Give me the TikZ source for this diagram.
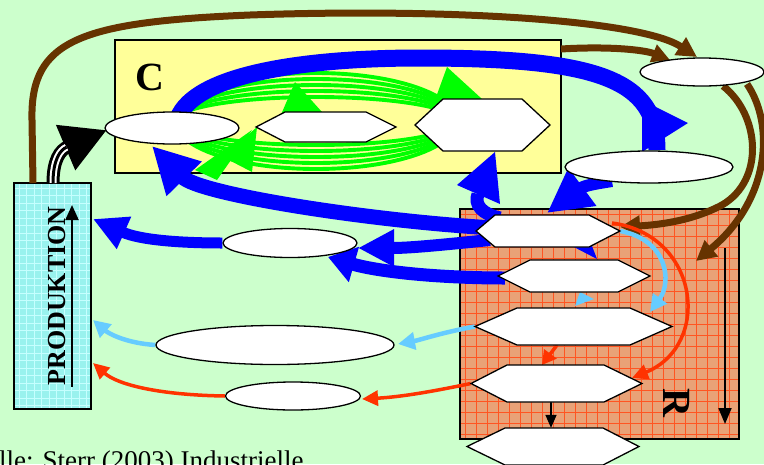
\documentclass[tikz,border=0pt]{standalone}
\usepackage{fontspec}
\setmainfont{Liberation Serif}
\usetikzlibrary{arrows.meta,shapes.geometric}
\pgfdeclarelayer{back}
\pgfdeclarelayer{mid}
\pgfsetlayers{back,mid,main}
\definecolor{bgc}{HTML}{CCFFCC}
\definecolor{cyel}{HTML}{FFFF99}
\definecolor{myblue}{HTML}{0000FF}
\definecolor{mygreen}{HTML}{00FF00}
\definecolor{brn}{HTML}{663300}
\definecolor{lblue}{HTML}{66CCFF}
\definecolor{myred}{HTML}{FF3300}
\definecolor{rfill}{HTML}{E9A277}
\definecolor{rgrid}{HTML}{FF5522}
\definecolor{pfill}{HTML}{99F2EE}
\definecolor{pgrid}{HTML}{C6FFFF}
\tikzset{
  ell/.style={ellipse, draw=black, line width=1.3pt, fill=white, inner sep=0pt},
  hexst/.style={draw=black, line width=1.3pt, fill=white, line join=miter},
  barr/.style n args={3}{draw=myblue, line width=#1pt, -{Triangle[length=#2pt,width=#3pt]}},
  larr/.style={draw=lblue, line width=4.5pt, -{Triangle[length=17pt,width=17pt]}},
  rarr/.style={draw=myred, line width=3.5pt, -{Triangle[length=16pt,width=15pt]}},
  brarr/.style={draw=brn, line width=7pt, -{Triangle[length=20pt,width=20pt]}},
  karr/.style={draw=black, line width=1.6pt, -{Triangle[length=13pt,width=11pt]}},
  gtri/.style={fill=mygreen},
}
\newcommand\hexnode[7]{%
  \draw[hexst] (#2,{(#6+#7)/2}) -- (#3,#6) -- (#4,#6) -- (#5,{(#6+#7)/2}) -- (#4,#7) -- (#3,#7) -- cycle;
  \node[inner sep=0pt, minimum width={(#5-#2)*1pt}, minimum height={(#7-#6)*1pt}] (#1) at ({(#2+#5)/2},{(#6+#7)/2}) {};
}
\begin{document}
\begin{tikzpicture}[x=1pt,y=-1pt]
\useasboundingbox (0,0) rectangle (764,464);
\begin{pgfonlayer}{back}
\fill[bgc] (0,0) rectangle (764,464);
\node[draw, line width=1.5pt, fill=cyel, minimum width=446pt, minimum height=133pt, inner sep=0pt] (crect) at (338,106.5) {};
\foreach \r in {24,30,36,42,48}
  \draw[mygreen, line width=3.9pt] (316,121) ellipse [x radius=141, y radius=\r];
\fill[gtri] (295,82) -- (280,117) -- (322,112) -- cycle;
\fill[gtri] (447,67) -- (435,100) -- (482,99) -- cycle;
\fill[gtri] (257,127) -- (223,157) -- (252,172) -- cycle;
\fill[gtri] (252,130) -- (195,170) -- (217,180) -- cycle;
\node[draw, line width=1.5pt, fill=rfill, minimum width=279pt, minimum height=230pt, inner sep=0pt] (rrect) at (599.5,324) {};
\foreach \x in {465,476,...,739} \draw[rgrid, line width=0.7pt] (\x,209) -- (\x,439);
\foreach \y in {214,225,...,439} \draw[rgrid, line width=0.7pt] (460,\y) -- (739,\y);
\draw[line width=1.5pt] (460,209) rectangle (739,439);
\node[draw, line width=1.8pt, fill=pfill, minimum width=77pt, minimum height=226pt, inner sep=0pt] (prod) at (52.5,296) {};
\foreach \x in {19,26.5,...,91} \draw[pgrid, line width=0.6pt] (\x,183) -- (\x,409);
\foreach \y in {188,195.5,...,409} \draw[pgrid, line width=0.6pt] (14,\y) -- (91,\y);
\draw[line width=1.8pt] (14,183) rectangle (91,409);
\end{pgfonlayer}

% nodes
\node[ell, minimum width=134pt, minimum height=32pt] (E1) at (172,128) {};
\hexnode{Ha}{256}{285}{366}{396}{112}{142}
\hexnode{Hb}{415}{443}{522}{550}{99}{151}
\node[ell, minimum width=124pt, minimum height=28pt] (E2) at (702,72) {};
\node[ell, minimum width=168pt, minimum height=32pt] (E3) at (649,167) {};
\hexnode{HRa}{476}{495}{589}{620}{215}{247}
\hexnode{HRb}{498}{530}{618}{650}{260}{292}
\hexnode{HRc}{475}{517}{630}{672}{308}{345}
\hexnode{HRd}{471}{507}{604}{642}{365}{402}
\hexnode{HRe}{467}{505}{603}{639}{428}{465}
\node[ell, minimum width=134pt, minimum height=29pt] (E4) at (290,243) {};
\node[ell, minimum width=238pt, minimum height=39pt] (E5) at (275,345) {};
\node[ell, minimum width=135pt, minimum height=28pt] (E6) at (293,396) {};
\node[anchor=base, inner sep=0pt, font=\bfseries\fontsize{40}{40}\selectfont] (clab) at (150,90) {C};
\node[rotate=-90, inner sep=0pt, font=\bfseries\fontsize{40}{40}\selectfont] (rlab) at (677,403) {R};
\node[rotate=90, inner sep=0pt, font=\bfseries\fontsize{26}{26}\selectfont] (ptext) at (57,296) {PRODUKTION};
\node[anchor=base west, inner sep=0pt, font=\fontsize{27}{27}\selectfont] (src) at (-1,469) {lle: Sterr (2003) Industrielle};

% coordinates
\coordinate (b1s) at (178,118);
\coordinate (b1e) at (657,150);
\coordinate (b4s) at (495,228);
\coordinate (b4t) at (152,146);
\coordinate (b5s) at (490,240);
\coordinate (b5t) at (358,248);
\coordinate (b6t) at (93,219);
\coordinate (b7s) at (505,278);
\coordinate (b7t) at (328,257);
\coordinate (b2s) at (612,181);
\coordinate (b2t) at (547,213);
\coordinate (b3s) at (500,218);
\coordinate (b3m) at (478,194);
\coordinate (l1t) at (650,312);
\coordinate (l3t) at (398,344);
\coordinate (l4t) at (93,320);
\coordinate (r1s) at (612,223);
\coordinate (r1t) at (632,378);
\coordinate (r3t) at (362,399);
\coordinate (r4t) at (93,363);
\coordinate (br1s) at (33,183);
\coordinate (br1t) at (697,57);
\coordinate (br2s) at (561,49);
\coordinate (br2t) at (670,60);
\coordinate (br3s) at (723,86);
\coordinate (br3t) at (620,227);
\coordinate (br4s) at (747,84);
\coordinate (br4t) at (696,261);
\coordinate (ks) at (53,183);
\coordinate (kt) at (107,130);

\begin{pgfonlayer}{mid}
% brown
\draw[brarr] (br1s) -- (32,120) .. controls (30,40) and (80,22) .. (250,15) .. controls (450,8) and (640,20) .. (br1t);
\draw[draw=brn, line width=7pt, -{Triangle[length=18pt,width=18pt]}] (br2s) .. controls (610,46) and (645,50) .. (br2t);
\draw[brarr] (br3s) .. controls (760,115) and (765,180) .. (722,205) .. controls (690,222) and (655,225) .. (br3t);
\draw[brarr] (br4s) .. controls (775,125) and (770,200) .. (br4t);
% black compound arrow
\draw[draw=black, line width=13pt, -{Triangle[length=45pt,width=46pt]}] (ks) .. controls (53,160) and (60,150) .. (kt);
\draw[draw=white, line width=7pt, shorten >=44pt] (ks) .. controls (53,160) and (60,150) .. (kt);
\draw[draw=black, line width=3pt, shorten >=44pt] (ks) .. controls (53,160) and (60,150) .. (kt);
% blue
\draw[myblue, line width=17pt] (b1s) .. controls (195,75) and (300,58) .. (420,58) .. controls (600,58) and (657,80) .. (b1e);
\fill[myblue] (642,100) -- (688,123) -- (642,152) -- cycle;
\draw[barr={15}{46}{46}] (b4s) .. controls (380,222) and (200,195) .. (b4t);
\draw[barr={12}{36}{35}] (b5s) .. controls (440,245) and (410,248) .. (b5t);
\draw[barr={11}{34}{33}] (E4.west) .. controls (180,243) and (140,240) .. (b6t);
\draw[barr={13}{27}{35}] (b7s) .. controls (440,278) and (380,272) .. (b7t);
\draw[barr={12}{44}{44}] (b2s) .. controls (600,183) and (585,185) .. (b2t);
\draw[myblue, line width=13pt] (b3s) .. controls (482,214) and (474,205) .. (b3m);
\fill[myblue] (495,152) -- (457,185) -- (500,204) -- cycle;
\fill[myblue] (572,246) -- (592,246) -- (597,259) -- cycle;
% light blue
\draw[larr] (HRa.east) .. controls (668,240) and (672,282) .. (l1t);
\fill[lblue] (575,306) -- (580,292) -- (594,299) -- cycle;
\draw[larr] (HRc.west) .. controls (440,333) and (420,340) .. (l3t);
\draw[larr] (E5.west) .. controls (125,343) and (108,333) .. (l4t);
% red
\draw[rarr] (r1s) .. controls (700,235) and (712,345) .. (r1t);
\draw[draw=myred, line width=3.5pt, -{Triangle[length=14pt,width=15pt]}] (557,345) -- (542,365);
\draw[rarr] (HRd.west) .. controls (430,392) and (400,397) .. (r3t);
\draw[rarr] (E6.west) .. controls (160,395) and (118,385) .. (r4t);
% black
\draw[karr] (HRd.south -| 551,0) -- (HRe.north -| 551,0);
\draw[draw=black, line width=1.8pt, -{Triangle[length=16pt,width=13pt]}] (725,248) -- (725,424);
\draw[draw=black, line width=2pt, -{Triangle[length=15pt,width=13pt]}] (72,387) -- (72,205);
\end{pgfonlayer}
\end{tikzpicture}
\end{document}
